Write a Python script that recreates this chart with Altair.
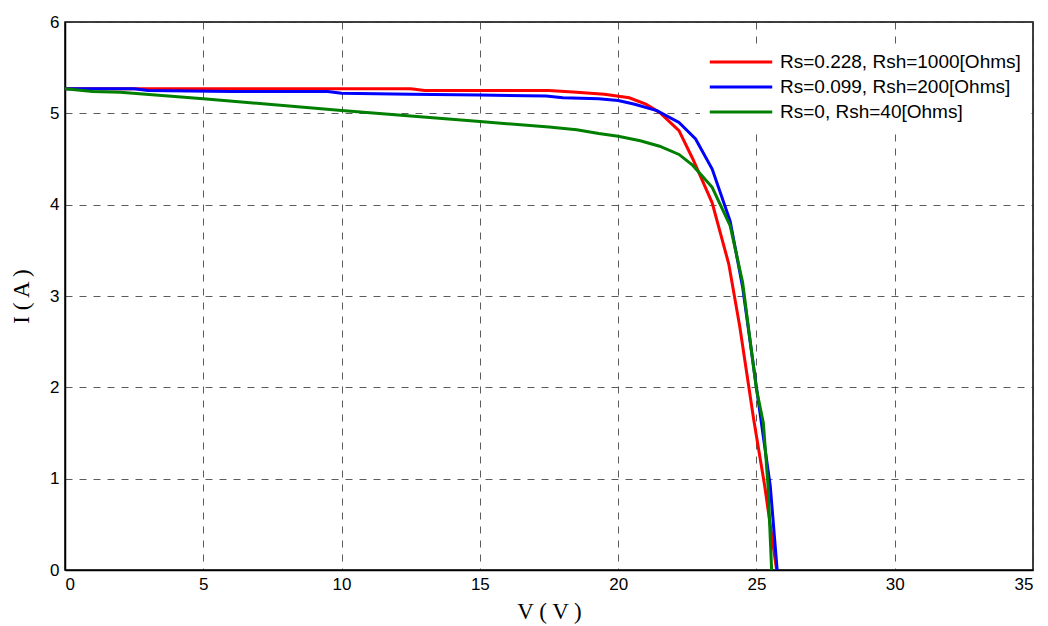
import altair as alt
import pandas as pd

labels = ["Rs=0.228, Rsh=1000[Ohms]", "Rs=0.099, Rsh=200[Ohms]", "Rs=0, Rsh=40[Ohms]"]
colors = ["#ff0000", "#0000ff", "#007f00"]

v_red = [0, 2.5, 5, 7.5, 10, 12.5, 13.0, 15, 17.5, 18.5, 19.5, 20.4, 21.0, 21.5, 22.2, 22.7, 23.4, 24.0, 24.4, 24.9, 25.3, 25.73]
i_red = [5.27, 5.27, 5.27, 5.27, 5.27, 5.27, 5.25, 5.25, 5.25, 5.23, 5.21, 5.17, 5.10, 5.01, 4.81, 4.50, 4.02, 3.35, 2.66, 1.65, 0.92, 0.0]

v_blue = [0, 2.5, 3.0, 6, 9.5, 10, 12.5, 15, 17.4, 18, 19.3, 20, 20.6, 21.4, 22.2, 22.8, 23.4, 24.05, 24.5, 25.0, 25.5, 25.75]
i_blue = [5.27, 5.27, 5.25, 5.24, 5.24, 5.22, 5.21, 5.20, 5.19, 5.17, 5.16, 5.14, 5.10, 5.03, 4.90, 4.72, 4.39, 3.82, 3.10, 2.00, 0.92, 0.0]

v_green = [0, 1, 2, 5, 10, 15, 17.5, 18.5, 19.3, 20, 20.8, 21.5, 22.2, 22.7, 23.4, 24.05, 24.5, 25.0, 25.25, 25.42, 25.55]
i_green = [5.27, 5.24, 5.23, 5.16, 5.03, 4.91, 4.85, 4.82, 4.78, 4.75, 4.70, 4.64, 4.55, 4.43, 4.19, 3.77, 3.15, 1.98, 1.61, 0.92, 0.0]

x_ticks = [0, 5, 10, 15, 20, 25, 30, 35]
y_ticks = [0, 1, 2, 3, 4, 5, 6]

series = [(v_red, i_red, labels[0]), (v_blue, i_blue, labels[1]), (v_green, i_green, labels[2])]

color_scale = alt.Scale(domain=labels, range=colors)

layers = []
for idx, (vs, cs, lab) in enumerate(series):
    df = pd.DataFrame({"V": vs, "I": cs, "s": lab, "o": list(range(len(vs)))})
    layer = alt.Chart(df).mark_line(strokeWidth=3, clip=True).encode(
        x=alt.X("V:Q", scale=alt.Scale(domain=[0, 35], nice=False, zero=False),
                axis=alt.Axis(values=x_ticks, title="V ( V )", grid=True, format="d")),
        y=alt.Y("I:Q", scale=alt.Scale(domain=[0, 6], nice=False),
                axis=alt.Axis(values=y_ticks, title="I ( A )", grid=True, format="d")),
        color=alt.Color("s:N", scale=color_scale,
                        legend=alt.Legend(title=None, orient="none", legendX=635, legendY=22,
                                          padding=8, fillColor="#ffffff",
                                          symbolType="stroke", symbolSize=3900, symbolStrokeWidth=3,
                                          clipHeight=20, rowPadding=5, labelLimit=400,
                                          labelFontSize=19, labelFont="Liberation Sans",
                                          labelColor="#000000", labelOffset=6)),
        order="o:Q",
    )
    layers.append(layer)

chart = alt.layer(*layers).properties(
    width=968, height=548,
    padding={"left": 65, "top": 22, "right": 15, "bottom": 56},
    autosize=alt.AutoSizeParams(type="none"),
).configure_view(
    stroke="#000000", strokeWidth=1.5
).configure_axis(
    domainColor="#000000", domainWidth=1.5,
    gridColor="#333333", gridDash=[7, 7], gridWidth=1, gridOpacity=0.8,
    ticks=False,
    labelFont="Liberation Sans", labelFontSize=17, labelColor="#000000",
    titleFont="Liberation Serif", titleFontSize=23, titleFontWeight="normal", titleColor="#000000",
).configure_axisX(
    labelPadding=6, titlePadding=8
).configure_axisY(
    labelPadding=6, titlePadding=16
)

chart.save("out.html", embed_options={"renderer": "svg", "actions": False})
